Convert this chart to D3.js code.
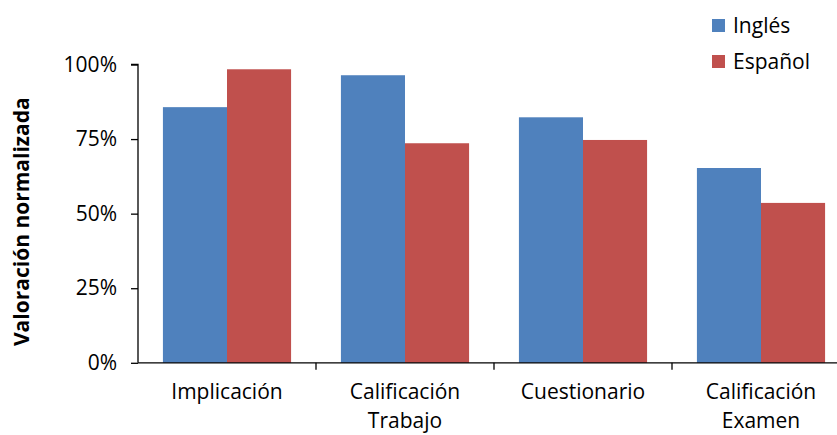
<!DOCTYPE html>
<html><head><meta charset="utf-8">
<script src="https://cdn.jsdelivr.net/npm/d3@7"></script>
<style>body{margin:0;background:#fff}svg{display:block}</style>
</head><body>
<svg id="c" width="837" height="435"></svg>
<script>
const categories = [["Implicación"], ["Calificación","Trabajo"], ["Cuestionario"], ["Calificación","Examen"]];
const seriesNames = ["Inglés", "Español"];
const ingles = [0.857, 0.964, 0.823, 0.653];
const espanol = [0.984, 0.736, 0.747, 0.536];
const yTicks = [0, 0.25, 0.5, 0.75, 1];
const colors = ["#4F81BD", "#C0504D"];

const font = "'Open Sans', Lato, sans-serif";
const fs = 21;
const svg = d3.select("#c");
const x0 = 138, x1 = 850, yTop = 64.5, yBot = 362.8;
const catKeys = categories.map(c => c.join(" "));
const x = d3.scaleBand().domain(catKeys).range([x0, x1]).paddingInner(0.28).paddingOuter(0.14);
const xs = d3.scaleBand().domain(seriesNames).range([0, x.bandwidth()]);
const y = d3.scaleLinear().domain([0, 1]).range([yBot, yTop]);
const data = [ingles, espanol];

const g = svg.append("g");
seriesNames.forEach((s, si) => {
  g.selectAll(null).data(data[si]).join("rect")
    .attr("x", (d, i) => x(catKeys[i]) + xs(s))
    .attr("y", d => y(d))
    .attr("width", xs.bandwidth())
    .attr("height", d => yBot - y(d))
    .attr("fill", colors[si]);
});

// y axis
const ya = svg.append("g").attr("transform", `translate(${x0},0)`)
  .call(d3.axisLeft(y).tickValues(yTicks).tickFormat(d3.format(".0%")).tickSize(7).tickPadding(14));
ya.select(".domain").attr("stroke", "#000").attr("stroke-width", 1.3).attr("d", `M-7,${yTop}H0V${yBot}`);
ya.selectAll(".tick line").attr("stroke", "#000").attr("stroke-width", 1.3);
ya.selectAll(".tick text").attr("font-family", font).attr("font-size", fs).attr("fill", "#000");

// x axis
const xa = svg.append("g").attr("transform", `translate(0,${yBot})`);
xa.append("path").attr("d", `M${x0},0H${x1}`).attr("stroke", "#000").attr("stroke-width", 1.3);
const boundaries = d3.range(catKeys.length + 1).map(i => x0 + i * (x1 - x0) / catKeys.length);
xa.selectAll(".bt").data(boundaries.slice(1)).join("line")
  .attr("x1", d => d).attr("x2", d => d).attr("y1", 0).attr("y2", 7)
  .attr("stroke", "#000").attr("stroke-width", 1.3);
categories.forEach((lines, i) => {
  const cx = x(catKeys[i]) + x.bandwidth() / 2;
  const t = xa.append("text").attr("font-family", font).attr("font-size", fs)
    .attr("text-anchor", "middle").attr("fill", "#000");
  lines.forEach((ln, li) => {
    t.append("tspan").attr("x", cx).attr("y", 36 + li * 29).text(ln);
  });
});

// y title
svg.append("text").attr("transform", `translate(29,${(yTop + yBot) / 2 + 8}) rotate(-90)`)
  .attr("text-anchor", "middle").attr("font-family", font).attr("font-size", fs)
  .attr("font-weight", "bold").attr("fill", "#000").text("Valoración normalizada");

// legend
const lg = svg.append("g");
seriesNames.forEach((s, i) => {
  const yy = 19 + i * 36;
  lg.append("rect").attr("x", 712).attr("y", yy).attr("width", 13).attr("height", 13).attr("fill", colors[i]);
  lg.append("text").attr("x", 733).attr("y", yy + 14).attr("font-family", font)
    .attr("font-size", fs).attr("fill", "#000").text(s);
});
</script>
</body></html>
